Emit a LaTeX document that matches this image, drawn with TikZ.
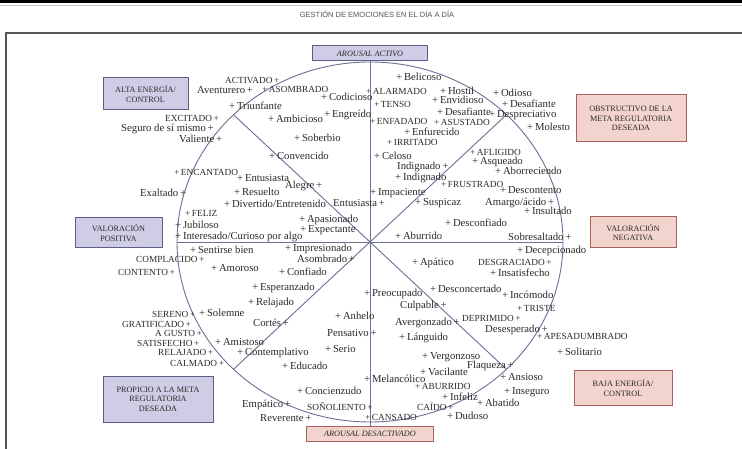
\documentclass[tikz,border=0pt]{standalone}
\usepackage{fontspec}
\setmainfont{Liberation Serif}
\newfontfamily\titlefont{Liberation Sans}
\definecolor{axisblue}{HTML}{6B7096}
\definecolor{lavfill}{HTML}{CFCDE5}
\definecolor{lavdraw}{HTML}{5E5C88}
\definecolor{pinkfill}{HTML}{F3D3CE}
\definecolor{pinkdraw}{HTML}{A8625E}
\definecolor{labgray}{HTML}{2A2A2A}
\definecolor{framegray}{HTML}{555555}
\tikzset{
  lab/.style={anchor=west, inner sep=0pt, text=labgray, font=\fontsize{10.7}{12}\selectfont},
  caplab/.style={lab, font=\fontsize{9.3}{11}\selectfont},
  posbox/.style={draw=lavdraw, fill=lavfill, line width=1pt, align=center,
    font=\fontsize{8.2}{9.6}\selectfont, text=labgray, inner sep=2pt},
  negbox/.style={posbox, draw=pinkdraw, fill=pinkfill},
  axis/.style={draw=axisblue, line width=0.9pt}
}
\begin{document}
\begin{tikzpicture}[x=1pt,y=-1pt]
  \useasboundingbox (0,0) rectangle (742,449);
  \fill[white] (0,0) rectangle (742,449);

  % header and frame
  \fill[black] (0,0) rectangle (742,3.5);
  \draw[gray!40, line width=1pt] (0,5.5) -- (742,5.5);
  \node[text=framegray, font=\titlefont\fontsize{7.5}{9}\selectfont] (title) at (377,14) {GESTIÓN DE EMOCIONES EN EL DÍA A DÍA};
  \draw[framegray, line width=1.2pt] (742,33) -- (6,33) -- (6,449);

  % boxes
  \node[posbox, minimum width=115pt, minimum height=15pt, font=\fontsize{8.2}{9.6}\selectfont\itshape] (activo) at (370,53.5) {AROUSAL ACTIVO};
  \node[negbox, minimum width=127pt, minimum height=15pt, font=\fontsize{8.2}{9.6}\selectfont\itshape] (desactivado) at (370,433.5) {AROUSAL DESACTIVADO};
  \node[posbox, minimum width=85pt, minimum height=32pt] (altaenergia) at (145.5,94) {ALTA ENERGÍA/\\CONTROL};
  \node[negbox, minimum width=110pt, minimum height=47pt] (obstructivo) at (631,118.5) {OBSTRUCTIVO DE LA\\META REGULATORIA\\DESEADA};
  \node[posbox, minimum width=87pt, minimum height=30pt] (valpositiva) at (118.5,233) {VALORACIÓN\\POSITIVA};
  \node[negbox, minimum width=86pt, minimum height=31pt] (valnegativa) at (633,232.5) {VALORACIÓN\\NEGATIVA};
  \node[posbox, minimum width=110pt, minimum height=46pt] (propicio) at (158,399) {PROPICIO A LA META\\REGULATORIA\\DESEADA};
  \node[negbox, minimum width=98pt, minimum height=35pt] (bajaenergia) at (623,388) {BAJA ENERGÍA/\\CONTROL};

  % circle and axes
  \coordinate (c) at (370,242);
  \coordinate (w) at (177,242);
  \coordinate (e) at (563,242);
  \coordinate (nw) at (233.5,114.7);
  \coordinate (ne) at (506.5,114.7);
  \coordinate (sw) at (233.5,369.3);
  \coordinate (se) at (506.5,369.3);
  \draw[axis] (c) ellipse [x radius=193pt, y radius=180pt];
  \draw[axis] (activo) -- (desactivado);
  \draw[axis] (w) -- (e);
  \draw[axis] (nw) -- (se);
  \draw[axis] (ne) -- (sw);

  % upper left
  \node[caplab] (activado) at (225,80) {ACTIVADO\,+};
  \node[lab] (aventurero) at (197,90) {Aventurero\,+};
  \node[caplab] (asombrado) at (262,89) {+\,ASOMBRADO};
  \node[lab] (triunfante) at (229,106) {+\,Triunfante};
  \node[lab] (codicioso) at (321,97) {+\,Codicioso};
  \node[lab] (ambicioso) at (268,119) {+\,Ambicioso};
  \node[lab] (engreido) at (324,115) {+\,Engreído};
  \node[lab] (soberbio) at (294,138) {+\,Soberbio};
  \node[lab] (convencido) at (269,156) {+\,Convencido};
  \node[caplab] (excitado) at (165,118) {EXCITADO\,+};
  \node[lab] (seguro) at (121,129) {Seguro de sí mismo\,+};
  \node[lab] (valiente) at (179,139) {Valiente\,+};
  \node[caplab] (encantado) at (174,172) {+\,ENCANTADO};
  \node[lab] (exaltado) at (140,193) {Exaltado\,+};
  \node[lab] (entusiasta) at (237,178) {+\,Entusiasta};
  \node[lab] (resuelto) at (234,192) {+\,Resuelto};
  \node[lab] (alegre) at (285,186) {Alegre\,+};
  \node[lab] (divertido) at (224,204) {+\,Divertido/Entretenido};
  \node[lab] (entusiastab) at (333,203) {Entusiasta\,+};
  \node[lab] (apasionado) at (299,220) {+\,Apasionado};
  \node[lab] (expectante) at (300,230) {+\,Expectante};
  \node[caplab] (feliz) at (185,213) {+\,FELIZ};
  \node[lab] (jubiloso) at (175,225) {+\,Jubiloso};
  \node[lab] (interesado) at (175,237) {+\,Interesado/Curioso por algo};

  % lower left
  \node[lab] (sentirse) at (190,250) {+\,Sentirse bien};
  \node[lab] (impresionado) at (285,249) {+\,Impresionado};
  \node[caplab] (complacido) at (136,259) {COMPLACIDO\,+};
  \node[lab] (asombradob) at (297,259) {Asombrado\,+};
  \node[caplab] (contento) at (118,272) {CONTENTO\,+};
  \node[lab] (amoroso) at (211,268) {+\,Amoroso};
  \node[lab] (confiado) at (279,272) {+\,Confiado};
  \node[lab] (esperanzado) at (252,288) {+\,Esperanzado};
  \node[lab] (relajado) at (248,303) {+\,Relajado};
  \node[lab] (solemne) at (199,313) {+\,Solemne};
  \node[caplab] (sereno) at (152,314) {SERENO\,+};
  \node[caplab] (gratificado) at (122,324) {GRATIFICADO\,+};
  \node[caplab] (agusto) at (155,333) {A GUSTO\,+};
  \node[caplab] (satisfecho) at (137,343) {SATISFECHO\,+};
  \node[lab] (amistoso) at (215,342) {+\,Amistoso};
  \node[caplab] (relajadob) at (158,352) {RELAJADO\,+};
  \node[caplab] (calmado) at (170,363) {CALMADO\,+};
  \node[lab] (cortes) at (253,323) {Cortés\,+};
  \node[lab] (contemplativo) at (237,353) {+\,Contemplativo};
  \node[lab] (educado) at (282,366) {+\,Educado};
  \node[lab] (anhelo) at (335,316) {+\,Anhelo};
  \node[lab] (pensativo) at (327,333) {Pensativo\,+};
  \node[lab] (serio) at (325,349) {+\,Serio};
  \node[lab] (concienzudo) at (297,391) {+\,Concienzudo};
  \node[lab] (empatico) at (242,405) {Empático\,+};
  \node[caplab] (sonoliento) at (307,407) {SOÑOLIENTO\,+};
  \node[lab] (reverente) at (260,418) {Reverente\,+};

  % upper right
  \node[lab] (belicoso) at (396,77) {+\,Belicoso};
  \node[caplab] (alarmado) at (366,91) {+\,ALARMADO};
  \node[lab] (hostil) at (440,90.5) {+\,Hostil};
  \node[lab] (odioso) at (493,93) {+\,Odioso};
  \node[caplab] (tenso) at (374,104) {+\,TENSO};
  \node[lab] (envidioso) at (432,100) {+\,Envidioso};
  \node[lab] (desafiante) at (437,111.5) {+\,Desafiante};
  \node[lab] (desafianteb) at (502,104) {+\,Desafiante};
  \node[lab] (despreciativo) at (489,115.5) {+\,Despreciativo};
  \node[caplab] (enfadado) at (370,121) {+\,ENFADADO};
  \node[caplab] (asustado) at (434,122.5) {+\,ASUSTADO};
  \node[lab] (molesto) at (527,127) {+\,Molesto};
  \node[lab] (enfurecido) at (404,131.5) {+\,Enfurecido};
  \node[caplab] (irritado) at (387,142.5) {+\,IRRITADO};
  \node[lab] (celoso) at (374,156) {+\,Celoso};
  \node[caplab] (afligido) at (470,152) {+\,AFLIGIDO};
  \node[lab] (asqueado) at (472,162) {+\,Asqueado};
  \node[lab] (aborreciendo) at (495,171) {+\,Aborreciendo};
  \node[lab] (indignado) at (397,167) {Indignado\,+};
  \node[lab] (indignadob) at (395,178) {+\,Indignado};
  \node[caplab] (frustrado) at (441,184) {+\,FRUSTRADO};
  \node[lab] (descontento) at (500,190.5) {+\,Descontento};
  \node[lab] (impaciente) at (370,193) {+\,Impaciente};
  \node[lab] (suspicaz) at (415,203) {+\,Suspicaz};
  \node[lab] (amargo) at (485,203) {Amargo/ácido\,+};
  \node[lab] (insultado) at (524,211) {+\,Insultado};
  \node[lab] (desconfiado) at (445,223) {+\,Desconfiado};
  \node[lab] (aburrido) at (395,236) {+\,Aburrido};
  \node[lab] (sobresaltado) at (508,237) {Sobresaltado\,+};

  % lower right
  \node[lab] (apatico) at (412,263) {+\,Apático};
  \node[lab] (decepcionado) at (517,251) {+\,Decepcionado};
  \node[caplab] (desgraciado) at (478,262) {DESGRACIADO\,+};
  \node[lab] (insatisfecho) at (490,273) {+\,Insatisfecho};
  \node[lab] (preocupado) at (364,294) {+\,Preocupado};
  \node[lab] (desconcertado) at (430,289) {+\,Desconcertado};
  \node[lab] (incomodo) at (502,295) {+\,Incómodo};
  \node[lab] (culpable) at (400,306) {Culpable\,+};
  \node[caplab] (triste) at (517,308) {+\,TRISTE};
  \node[caplab] (deprimido) at (462,318) {DEPRIMIDO\,+};
  \node[lab] (avergonzado) at (395,323) {Avergonzado\,+};
  \node[lab] (desesperado) at (485,330) {Desesperado\,+};
  \node[caplab] (apesadumbrado) at (537,336) {+\,APESADUMBRADO};
  \node[lab] (languido) at (399,338) {+\,Lánguido};
  \node[lab] (solitario) at (557,352) {+\,Solitario};
  \node[lab] (vergonzoso) at (422,357) {+\,Vergonzoso};
  \node[lab] (flaqueza) at (467,366) {Flaqueza\,+};
  \node[lab] (vacilante) at (420,372) {+\,Vacilante};
  \node[lab] (melancolico) at (364,379) {+\,Melancólico};
  \node[caplab] (aburridob) at (415,386) {+\,ABURRIDO};
  \node[lab] (ansioso) at (500,377) {+\,Ansioso};
  \node[lab] (infeliz) at (442,396.5) {+\,Infeliz};
  \node[lab] (inseguro) at (504,392) {+\,Inseguro};
  \node[lab] (abatido) at (477,403) {+\,Abatido};
  \node[caplab] (caido) at (417,407) {CAÍDO\,+};
  \node[lab] (dudoso) at (447,416) {+\,Dudoso};
  \node[caplab] (cansado) at (365,417) {+\,CANSADO};
\end{tikzpicture}
\end{document}
